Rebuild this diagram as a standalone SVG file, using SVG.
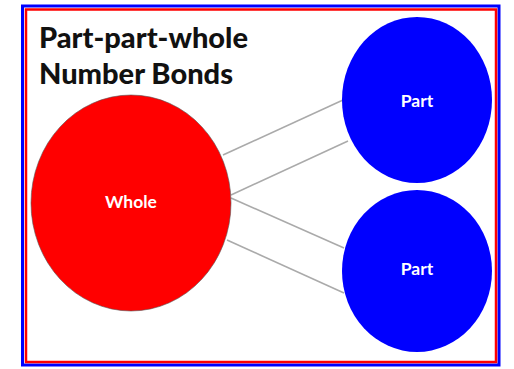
<svg xmlns="http://www.w3.org/2000/svg" width="514" height="369" viewBox="0 0 514 369">
<style>
.title{font-family:"Lato","Open Sans",sans-serif;font-weight:900;font-size:29px;fill:#111}
.lbl{font-family:"Lato","Open Sans",sans-serif;font-weight:bold;font-size:17.5px;fill:#fff;text-anchor:middle;dominant-baseline:central}
.conn line{stroke:#aaa;stroke-width:1.6}
</style>
<rect x="0" y="0" width="514" height="369" fill="#fff"/>
<rect x="22.5" y="6" width="476.5" height="359" fill="none" stroke="#0000ff" stroke-width="3"/>
<rect x="26" y="9.5" width="470" height="352.5" fill="none" stroke="#ff0000" stroke-width="2.5"/>
<text class="title" x="39" y="48">Part-part-whole</text>
<text class="title" x="39" y="84">Number Bonds</text>
<g class="conn" id="connectors">
<line x1="223" y1="155" x2="343" y2="100"/>
<line x1="231" y1="195" x2="348" y2="141"/>
<line x1="231" y1="198" x2="344" y2="248"/>
<line x1="227" y1="240" x2="344" y2="293"/>
</g>
<g id="whole">
<ellipse cx="131" cy="203" rx="100" ry="108" fill="#ff0000" stroke="#555" stroke-width="0.6"/>
<text class="lbl" x="131" y="201">Whole</text>
</g>
<g id="part1">
<ellipse cx="417" cy="100" rx="75" ry="83" fill="#0000ff"/>
<text class="lbl" x="417" y="100">Part</text>
</g>
<g id="part2">
<ellipse cx="417" cy="271" rx="75" ry="81" fill="#0000ff"/>
<text class="lbl" x="417" y="268">Part</text>
</g>
</svg>
